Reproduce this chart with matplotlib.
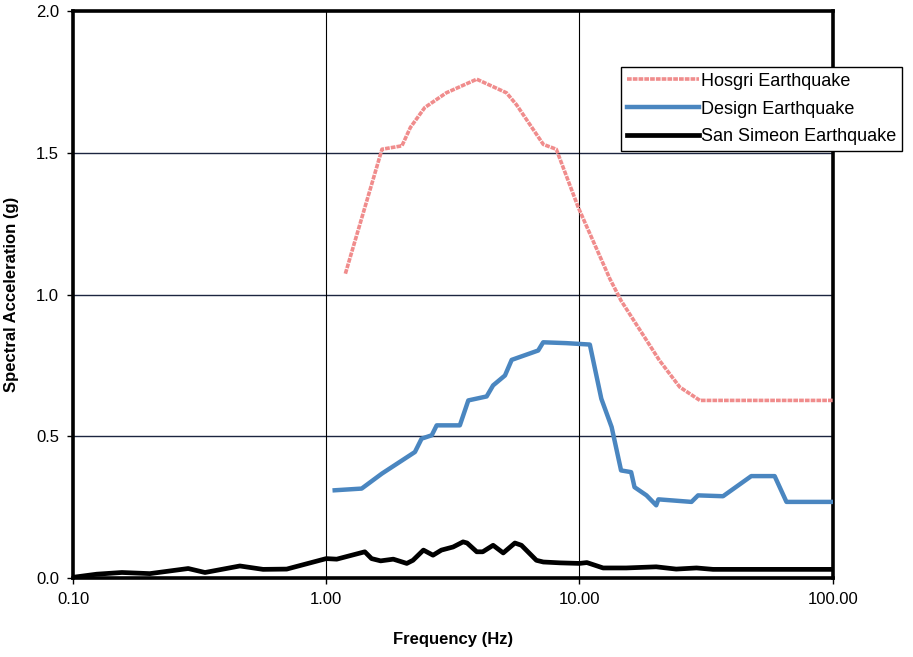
import matplotlib
matplotlib.use("Agg")
import matplotlib.pyplot as plt
from matplotlib.ticker import FixedLocator, NullLocator

plt.rcParams['font.family'] = ['Liberation Sans', 'DejaVu Sans']

# Hosgri earthquake spectrum
hosgri_freq = [1.19, 1.66, 1.99, 2.15, 2.45, 2.98, 3.93, 5.15, 5.64, 7.2, 8.1, 9.9,
               13.2, 14.6, 20.7, 24.9, 29.9, 100.0]
hosgri_acc = [1.074, 1.513, 1.525, 1.59, 1.66, 1.712, 1.76, 1.712, 1.67, 1.53, 1.513,
              1.307, 1.055, 0.979, 0.768, 0.674, 0.627, 0.627]

# Design earthquake spectrum
design_freq = [1.08, 1.38, 1.66, 1.99, 2.24, 2.38, 2.61, 2.73, 3.37, 3.64, 4.30, 4.56,
               5.08, 5.40, 6.87, 7.19, 8.89, 10.99, 12.2, 13.4, 14.6, 16.0, 16.5, 18.4,
               20.1, 20.5, 27.7, 29.4, 36.9, 47.7, 59.0, 65.7, 100.0]
design_acc = [0.31, 0.316, 0.369, 0.415, 0.445, 0.492, 0.504, 0.539, 0.539, 0.627,
              0.641, 0.68, 0.715, 0.77, 0.803, 0.832, 0.829, 0.824, 0.633, 0.533, 0.380,
              0.374, 0.321, 0.292, 0.257, 0.278, 0.269, 0.292, 0.289, 0.360, 0.360,
              0.269, 0.269]

# San Simeon earthquake spectrum
simeon_freq = [0.10, 0.124, 0.156, 0.201, 0.285, 0.332, 0.456, 0.563, 0.698, 1.0, 1.1,
               1.42, 1.51, 1.64, 1.84, 2.08, 2.2, 2.42, 2.64, 2.85, 3.17, 3.47, 3.6,
               3.93, 4.15, 4.56, 5.0, 5.56, 5.9, 6.76, 7.2, 8.38, 10.0, 10.7, 12.4,
               15.3, 20.1, 24.1, 29.0, 33.7, 100.0]
simeon_acc = [0.003, 0.014, 0.020, 0.016, 0.034, 0.020, 0.043, 0.031, 0.032, 0.069,
              0.067, 0.093, 0.069, 0.061, 0.067, 0.052, 0.063, 0.099, 0.081, 0.099,
              0.110, 0.128, 0.124, 0.093, 0.093, 0.116, 0.089, 0.124, 0.116, 0.063,
              0.057, 0.054, 0.052, 0.055, 0.036, 0.036, 0.040, 0.032, 0.036, 0.031,
              0.031]

x_ticks = [0.1, 1, 10, 100]
x_labels = ['0.10', '1.00', '10.00', '100.00']
y_ticks = [0.0, 0.5, 1.0, 1.5, 2.0]
y_labels = ['0.0', '0.5', '1.0', '1.5', '2.0']

fig = plt.figure(figsize=(9.13, 6.57), dpi=100)
ax = fig.add_axes([0.080, 0.120, 0.832, 0.863])

# grid
for y in y_ticks[1:-1]:
    ax.axhline(y, color='#1c2540', lw=1.0, zorder=1)
for x in x_ticks[1:-1]:
    ax.axvline(x, color='black', lw=0.8, zorder=1)

ax.plot(hosgri_freq, hosgri_acc, color='#f08c8c', lw=2.6, ls=(0, (1.3, 0.3)),
        label='Hosgri Earthquake', zorder=3)
ax.plot(design_freq, design_acc, color='#4a86c0', lw=3.2, label='Design Earthquake',
        zorder=3)
ax.plot(simeon_freq, simeon_acc, color='black', lw=3.4, label='San Simeon Earthquake',
        zorder=3)

ax.set_xscale('log')
ax.set_xlim(0.1, 100)
ax.set_ylim(0, 2.0)
ax.xaxis.set_major_locator(FixedLocator(x_ticks))
ax.xaxis.set_minor_locator(NullLocator())
ax.set_xticklabels(x_labels)
ax.set_yticks(y_ticks)
ax.set_yticklabels(y_labels)
ax.tick_params(axis='both', direction='out', length=4, width=1, labelsize=12, pad=6)

for sp in ax.spines.values():
    sp.set_linewidth(2.6)
    sp.set_color('black')

ax.set_xlabel('Frequency (Hz)', fontsize=12, fontweight='bold', labelpad=18)
ax.set_ylabel('Spectral Acceleration (g)', fontsize=12, fontweight='bold', labelpad=12)

leg = ax.legend(loc='upper left', bbox_to_anchor=(0.722, 0.901), fontsize=13,
                frameon=True, fancybox=False, handlelength=4.0, handletextpad=0.1,
                borderpad=0.3, labelspacing=0.6, borderaxespad=0)
leg.get_frame().set_edgecolor('black')
leg.get_frame().set_linewidth(1.0)
leg.get_frame().set_alpha(1)

fig.savefig('out.png', dpi=100)
